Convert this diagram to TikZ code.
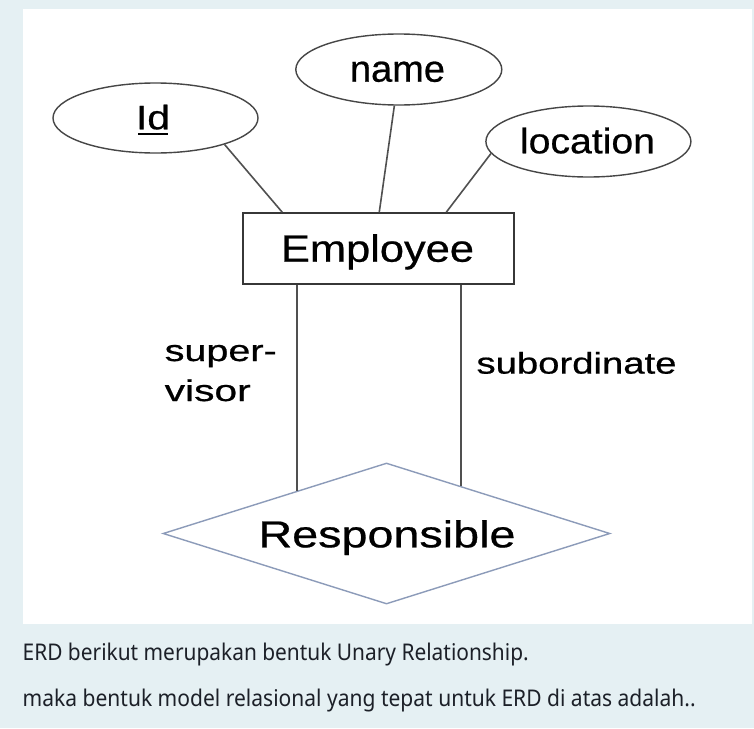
\documentclass[tikz,border=0pt]{standalone}
\usepackage{fontspec}
\usepackage{graphicx}
\setmainfont{Liberation Sans}[FakeBold=0.6]
\newfontfamily\uifont{Noto Sans}
\usetikzlibrary{shapes.geometric,calc}
\newcommand{\fitw}[2]{\resizebox{#1}{\height}{#2}}
\definecolor{bgc}{RGB}{229,240,243}
\definecolor{uitext}{RGB}{28,32,40}
\definecolor{attrline}{RGB}{70,70,70}
\definecolor{entline}{RGB}{55,55,55}
\definecolor{connline}{RGB}{80,80,80}
\definecolor{relline}{RGB}{140,155,185}
\begin{document}
\begin{tikzpicture}[x=1pt,y=-1pt,
  attr/.style={ellipse, draw=attrline, line width=1.4pt, inner sep=0pt, fill=white},
  entity/.style={rectangle, draw=entline, line width=1.5pt, inner sep=0pt, fill=white},
  rel/.style={diamond, draw=relline, line width=1.4pt, inner sep=0pt, fill=white},
  lbl/.style={inner sep=0pt, text=black},
  conn/.style={draw=connline, line width=1.6pt},
  uitxt/.style={anchor=base west, inner sep=0pt, text=uitext}]
\useasboundingbox (0,0) rectangle (754,728);
\fill[bgc] (0,0) rectangle (754,728);
\fill[white] (23,9) rectangle (752,624);

% shapes
\node[attr, minimum width=205pt, minimum height=70pt] (idatt) at (155.5,118) {};
\node[attr, minimum width=206pt, minimum height=71pt] (nameatt) at (398.8,69.5) {};
\node[attr, minimum width=205pt, minimum height=71pt] (locatt) at (588.4,141.5) {};
\node[entity, minimum width=271pt, minimum height=71pt] (emp) at (378.5,248.5) {};
\node[rel, minimum width=447pt, minimum height=141pt] (resp) at (386.5,533.5) {};

% texts
\node[lbl, anchor=base] (idtxt) at (153,129.3) {\fitw{34pt}{\fontsize{34}{40}\selectfont Id}};
\draw[line width=2pt, black] ([shift={(2.5,5)}]idtxt.base west) -- ([shift={(-2,5)}]idtxt.base east);
\node[lbl, anchor=base] (nametxt) at (397.5,81.7) {\fitw{95pt}{\fontsize{37.5}{44}\selectfont name}};
\node[lbl, anchor=base] (loctxt) at (587.5,153.3) {\fitw{135pt}{\fontsize{35.5}{42}\selectfont location}};
\node[lbl, anchor=base] (emptxt) at (377.5,261.7) {\fitw{193pt}{\fontsize{38}{45}\selectfont Employee}};
\node[lbl, anchor=base] (resptxt) at (387,547.3) {\fitw{257pt}{\fontsize{37.5}{44}\selectfont Responsible}};
\node[lbl, anchor=base west] (sup1) at (164.5,361) {\fitw{112pt}{\fontsize{30}{35}\selectfont super-}};
\node[lbl, anchor=base west] (sup2) at (164.5,401) {\fitw{86pt}{\fontsize{30}{35}\selectfont visor}};
\node[lbl, anchor=base] (subtxt) at (576.5,373.6) {\fitw{200pt}{\fontsize{30}{35}\selectfont subordinate}};

% connectors
\draw[conn] (idatt.-21) -- ([xshift=40pt]emp.north west);
\draw[conn] (nameatt.-97) -- ([xshift=137pt]emp.north west);
\draw[conn] (locatt.187) -- ([xshift=204pt]emp.north west);
\coordinate (dl) at ($(resp.west)!0.6!(resp.north)$);
\coordinate (dr) at ($(resp.north)!0.333!(resp.east)$);
\draw[conn] (dl |- emp.south) -- (dl);
\draw[conn] (dr |- emp.south) -- (dr);

% question text
\node[uitxt] (q1) at (22.5,660) {\fitw{506pt}{\uifont\fontsize{23}{28}\selectfont ERD berikut merupakan bentuk Unary Relationship.}};
\node[uitxt] (q2) at (22.5,706) {\fitw{673pt}{\uifont\fontsize{23}{28}\selectfont maka bentuk model relasional yang tepat untuk ERD di atas adalah..}};
\end{tikzpicture}
\end{document}
